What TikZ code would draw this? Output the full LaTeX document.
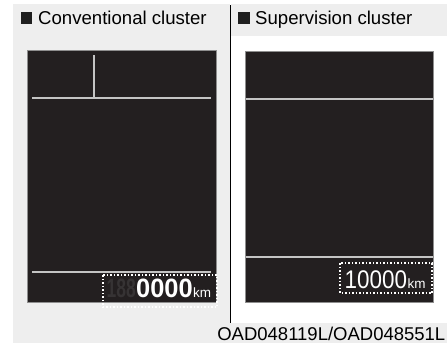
\documentclass[tikz,border=0pt]{standalone}
\usepackage{graphicx}
\usepackage{fontspec}
\setmainfont{Liberation Sans}
\usetikzlibrary{positioning}
\definecolor{panelgray}{HTML}{EEEEEE}
\definecolor{lcdblack}{HTML}{231F20}
\definecolor{lcdedge}{HTML}{8E8E8E}
\definecolor{lcdline}{HTML}{C4C4C4}
\definecolor{ghost}{HTML}{363334}
\newcommand{\narrowed}[2]{\scalebox{#1}[1]{#2}}

\begin{document}
\begin{tikzpicture}[x=1pt, y=-1pt,
  screen/.style={fill=lcdblack, draw=lcdedge, line width=0.9pt},
  segline/.style={draw=lcdline, line width=1.6pt},
  odobox/.style={draw=white, dotted, line width=1.5pt},
  head/.style={anchor=base west, inner sep=0pt, font=\fontsize{18.6}{20}\selectfont},
  hsquare/.style={fill=black!88, minimum size=11.5pt, inner sep=0pt},
  digits/.style={anchor=base west, inner sep=0pt, font=\fontsize{25.5}{27}\selectfont},
  bigdigits/.style={anchor=base west, inner sep=0pt, font=\bfseries\fontsize{26.5}{28}\selectfont},
  unit/.style={anchor=base west, inner sep=0pt, text=white, font=\fontsize{13.5}{14}\selectfont}
]
\useasboundingbox (0,0) rectangle (447,343);

% backgrounds
\fill[panelgray] (13,4) rectangle (230,343);
\fill[panelgray] (231,4) rectangle (447,36);
\fill[panelgray] (230,323) rectangle (447,343);
\draw[line width=1.2pt] (230.5,5) -- (230.5,323);

% headers
\node[hsquare] (sqL) at (26.5,18) {};
\node[head] (headL) at (38,24) {Conventional cluster};
\node[hsquare] (sqR) at (244,18) {};
\node[head] (headR) at (255,24) {Supervision cluster};

% conventional cluster screen
\draw[screen] (27,50) rectangle (216,302);
\draw[segline] (32,98) -- (211,98);
\draw[segline] (94,55) -- (94,98);
\draw[segline] (32,272) -- (211,272);
\draw[odobox] (103,275) rectangle (217,307);
\node[bigdigits, text=ghost] (ghostL) at (106.5,297) {\narrowed{0.66}{188}};
\node[bigdigits, text=white] (odoL) at (136,297) {\narrowed{0.96}{0000}};
\node[unit] (kmL) at (193,297) {km};

% supervision cluster screen
\draw[screen] (245,51) rectangle (433,302);
\draw[segline] (245.5,99) -- (432.5,99);
\draw[segline] (245.5,257) -- (432.5,257);
\draw[odobox] (340,263) rectangle (432,293);
\node[digits, text=white] (odoR) at (344.5,288) {\narrowed{0.88}{10000}};
\node[unit] (kmR) at (407.5,288) {km};

% caption
\node[anchor=base east, inner sep=0pt, font=\fontsize{18.5}{20}\selectfont] (code) at (445.5,340) {OAD048119L/OAD048551L};
\end{tikzpicture}
\end{document}
